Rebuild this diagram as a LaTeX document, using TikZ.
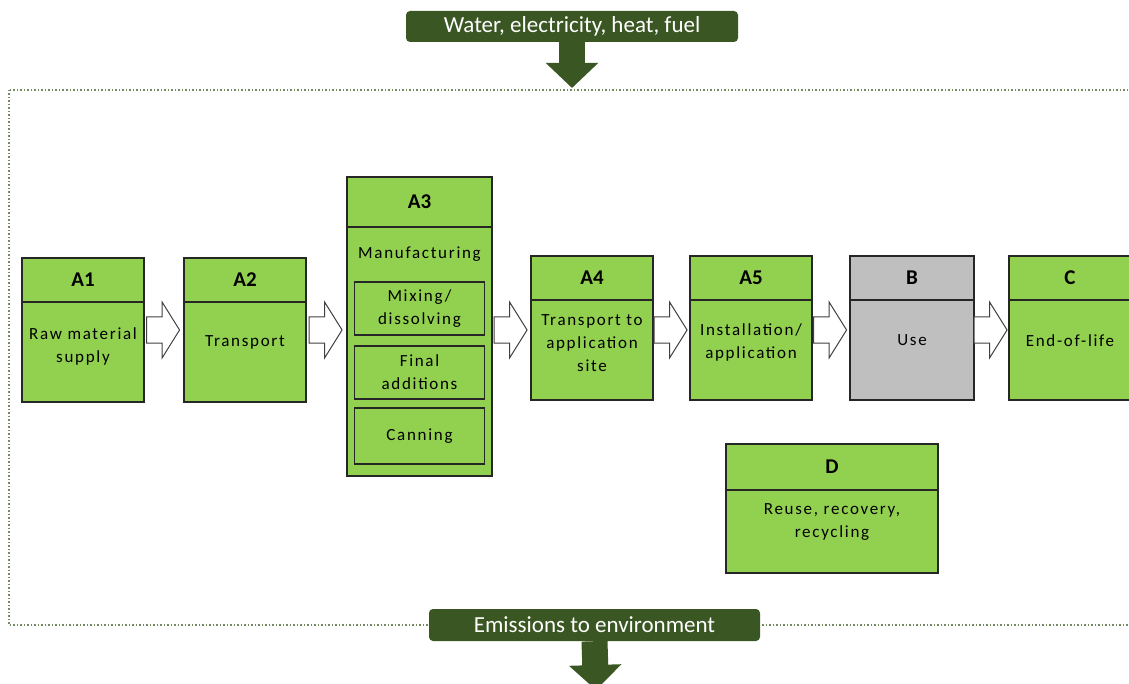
\documentclass[tikz,border=0pt]{standalone}
\usepackage{fontspec}
\setmainfont{Carlito}
\newfontfamily\spacedfont[LetterSpace=10]{Carlito}
\usepackage{tikz}
\usetikzlibrary{arrows.meta,calc,positioning,shapes.arrows}
\definecolor{boxgreen}{RGB}{146,208,80}
\definecolor{usegrey}{RGB}{191,191,191}
\definecolor{bannergreen}{RGB}{58,87,35}
\definecolor{framecol}{RGB}{118,138,98}
\definecolor{boxline}{RGB}{38,38,38}
\definecolor{arrowline}{RGB}{64,64,64}
\newcommand\stageheadfont{\bfseries\fontsize{21}{24}\selectfont}
\newcommand\stagetextfont{\spacedfont\fontsize{17}{23}\selectfont}
\newcommand\bannerfont{\fontsize{23}{26}\selectfont}
\tikzset{%
	stage/.style     = {draw=boxline, fill=boxgreen, line width=1.3pt, minimum width=122pt, minimum height=44pt, inner sep=0pt, outer sep=0pt, font=\stageheadfont},
	stagebody/.style = {draw=boxline, fill=boxgreen, line width=1.3pt, minimum width=122pt, minimum height=100pt, inner sep=0pt, outer sep=0pt},
	stagetext/.style = {align=center, font=\stagetextfont, inner sep=0pt},
	subblock/.style  = {draw=boxline, fill=boxgreen, line width=1.2pt, minimum width=130pt, minimum height=53pt, inner sep=0pt, outer sep=0pt, align=center, font=\stagetextfont},
	banner/.style    = {fill=bannergreen, rounded corners=4pt, text=white, font=\bannerfont, minimum width=332pt, minimum height=31pt, inner sep=0pt},
	flow/.style      = {single arrow, draw=arrowline, fill=white, line width=1pt, minimum height=33pt, inner xsep=0pt, inner ysep=12.5pt, single arrow head extend=15pt, single arrow tip angle=116, xshift=-5pt},
	bigflow/.style   = {draw=bannergreen, line width=26pt, -{Triangle[width=51pt,length=25pt]}},
	frame/.style     = {draw=framecol, line width=1.5pt, dash pattern=on 1.5pt off 2pt},
}
\begin{document}
\begin{tikzpicture}[x=1pt,y=-1pt]
	\useasboundingbox (0,0) rectangle (1129,684);
	\draw[frame] (9,90) rectangle (1150,625);

	% stages
	\node[stage,anchor=north west] (a1h) at (22,258) {A1};
	\node[stagebody,below=0pt of a1h] (a1) {};
	\node[stage,right=40pt of a1h] (a2h) {A2};
	\node[stagebody,below=0pt of a2h] (a2) {};
	\node[stage,anchor=north west,minimum width=145pt,minimum height=50pt] (a3h) at (347,177) {A3};
	\node[stagebody,below=0pt of a3h,minimum width=145pt,minimum height=249pt] (a3) {};
	\node[stage,anchor=north west] (a4h) at (531,256) {A4};
	\node[stagebody,below=0pt of a4h] (a4) {};
	\node[stage,right=37pt of a4h] (a5h) {A5};
	\node[stagebody,below=0pt of a5h] (a5) {};
	\node[stage,right=38pt of a5h,fill=usegrey,minimum width=124pt] (bh) {B};
	\node[stagebody,below=0pt of bh,fill=usegrey,minimum width=124pt] (b) {};
	\node[stage,right=35pt of bh] (ch) {C};
	\node[stagebody,below=0pt of ch] (c) {};
	\node[stage,anchor=north west,minimum width=212pt,minimum height=46pt] (dh) at (726,444) {D};
	\node[stagebody,below=0pt of dh,minimum width=212pt,minimum height=83pt] (d) {};

	\node[stagetext] (a1t) at ([yshift=6pt]a1.center) {Raw material\\supply};
	\node[stagetext] (a2t) at ([yshift=10pt]a2.center) {Transport};
	\node[stagetext] (a3t) at ([yshift=-27pt]a3.north) {Manufacturing};
	\node[subblock,anchor=north] (mix) at ([yshift=-55pt]a3.north) {Mixing/\\dissolving};
	\node[subblock,below=11pt of mix] (final) {Final\\additions};
	\node[subblock,below=9pt of final,minimum height=56pt] (can) {Canning};
	\node[stagetext] (a4t) at ([yshift=7pt]a4.center) {Transport to\\application\\site};
	\node[stagetext] (a5t) at ([yshift=8pt]a5.center) {Installation/\\application};
	\node[stagetext] (bt) at ([yshift=10pt]b.center) {Use};
	\node[stagetext] (ct) at ([yshift=9pt]c.center) {End-of-life};
	\node[stagetext] (dt) at ([yshift=9pt]d.center) {Reuse, recovery,\\recycling};

	% flow between stages
	\coordinate (row) at (0,330);
	\node[flow] (f1) at ($(a1.east |- row)!0.5!(a2.west |- row)$) {};
	\node[flow] (f2) at ($(a2.east |- row)!0.5!(a3.west |- row)$) {};
	\node[flow] (f3) at ($(a3.east |- row)!0.5!(a4.west |- row)$) {};
	\node[flow] (f4) at ($(a4.east |- row)!0.5!(a5.west |- row)$) {};
	\node[flow] (f5) at ($(a5.east |- row)!0.5!(b.west |- row)$) {};
	\node[flow] (f6) at ($(b.east |- row)!0.5!(c.west |- row)$) {};

	% inputs and outputs
	\node[banner] (water) at (572,26.5) {Water, electricity, heat, fuel};
	\coordinate (inflow) at (572,88);
	\draw[bigflow] (water.south) -- (inflow);
	\node[banner,minimum width=331pt,minimum height=32pt] (emis) at (594.5,625) {Emissions to environment};
	\coordinate (outflow) at (596,690);
	\draw[bigflow] (emis.south) -- (outflow);
\end{tikzpicture}
\end{document}
